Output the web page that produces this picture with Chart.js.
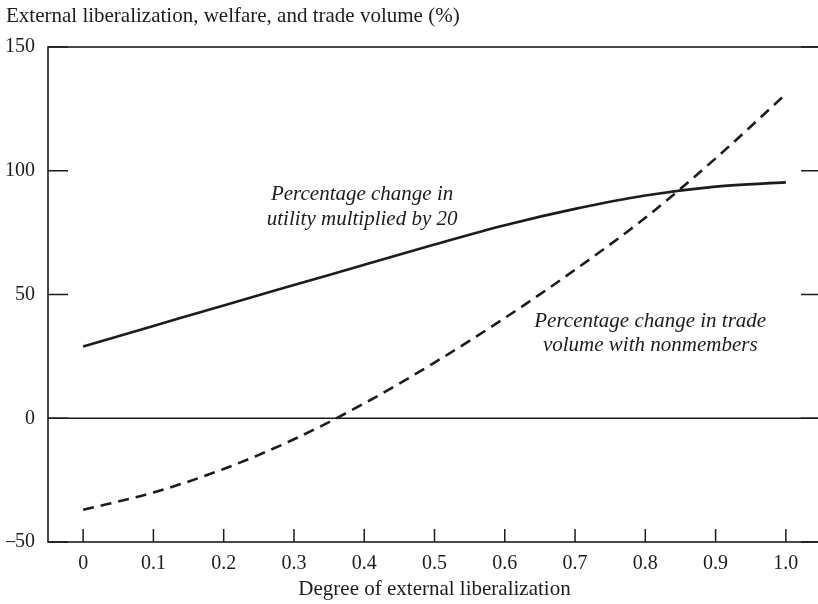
<!DOCTYPE html>
<html>
<head>
<meta charset="utf-8">
<script src="https://cdn.jsdelivr.net/npm/chart.js@4.4.1/dist/chart.umd.min.js"></script>
<style>
  html, body { margin: 0; padding: 0; background: #fff; overflow: hidden; }
  #wrap { width: 818px; height: 604px; overflow: hidden; }
</style>
</head>
<body>
<div id="wrap"><canvas id="chart" width="840" height="604"></canvas></div>
<script>
// values
const liberalization = [0, 0.1, 0.2, 0.3, 0.4, 0.5, 0.6, 0.7, 0.8, 0.9, 1.0];
const utilityChange = [29, 37.3, 45.6, 53.8, 62, 70.2, 78, 84.6, 90, 93.6, 95.3];
const tradeChange = [-37, -30, -20.5, -8.5, 6, 22.5, 40.5, 60, 81, 105, 131];

const xTicks = [0, 0.1, 0.2, 0.3, 0.4, 0.5, 0.6, 0.7, 0.8, 0.9, 1.0];
const xTickLabels = ['0', '0.1', '0.2', '0.3', '0.4', '0.5', '0.6', '0.7', '0.8', '0.9', '1.0'];
const yTicks = [-50, 0, 50, 100, 150];
const yTickLabels = ['\u201350', '0', '50', '100', '150'];

const serif = '"Liberation Serif", "DejaVu Serif", serif';
const ink = '#1c1c1c';

// curve labels, placed in data units
const curveNotes = [
    { x: 0.397, y: [90.3, 80.2], lines: ['Percentage change in', 'utility multiplied by 20'] },
    { x: 0.807, y: [39, 29.4], lines: ['Percentage change in trade', 'volume with nonmembers'] }
];

const framePlugin = {
    id: 'frame',
    beforeDatasetsDraw(chart) {
        const { ctx, chartArea: a, scales: { y } } = chart;
        const y0 = y.getPixelForValue(0);
        ctx.save();
        ctx.strokeStyle = ink;
        ctx.lineWidth = 1.3;
        ctx.beginPath();
        ctx.moveTo(a.left, y0);
        ctx.lineTo(a.right, y0);
        ctx.stroke();
        ctx.restore();
    },
    afterDatasetsDraw(chart) {
        const { ctx, chartArea: a, scales: { x, y } } = chart;
        ctx.save();
        ctx.strokeStyle = ink;
        ctx.lineWidth = 1.6;
        ctx.strokeRect(a.left, a.top, a.right - a.left, a.bottom - a.top);

        // inward ticks
        ctx.lineWidth = 1.5;
        ctx.beginPath();
        yTicks.forEach(v => {
            const py = y.getPixelForValue(v);
            ctx.moveTo(a.left, py); ctx.lineTo(a.left + 20, py);
            ctx.moveTo(a.right - 20, py); ctx.lineTo(a.right, py);
        });
        xTicks.forEach(v => {
            const px = x.getPixelForValue(v);
            ctx.moveTo(px, a.bottom); ctx.lineTo(px, a.bottom - 13);
        });
        ctx.stroke();

        // curve labels
        ctx.fillStyle = ink;
        ctx.font = 'italic 21px ' + serif;
        ctx.textAlign = 'center';
        ctx.textBaseline = 'middle';
        curveNotes.forEach(n => {
            n.lines.forEach((t, i) => {
                ctx.fillText(t, x.getPixelForValue(n.x), y.getPixelForValue(n.y[i]));
            });
        });
        ctx.restore();
    }
};

const ctx = document.getElementById('chart').getContext('2d');
const chart = new Chart(ctx, {
    type: 'line',
    data: {
        labels: liberalization,
        datasets: [{
            label: 'Percentage change in utility multiplied by 20',
            data: liberalization.map((v, i) => ({ x: v, y: utilityChange[i] })),
            borderColor: ink,
            borderWidth: 2.6,
            pointRadius: 0,
            cubicInterpolationMode: 'monotone'
        }, {
            label: 'Percentage change in trade volume with nonmembers',
            data: liberalization.map((v, i) => ({ x: v, y: tradeChange[i] })),
            borderColor: ink,
            borderWidth: 2.6,
            borderDash: [11, 7],
            pointRadius: 0,
            cubicInterpolationMode: 'monotone'
        }]
    },
    options: {
        responsive: false,
        animation: false,
        layout: { padding: { left: 6, right: 19, top: 0, bottom: 0 } },
        plugins: {
            legend: { display: false },
            tooltip: { enabled: false },
            title: {
                display: true,
                text: 'External liberalization, welfare, and trade volume (%)',
                align: 'start',
                color: ink,
                font: { family: serif, size: 21, weight: 'normal' },
                padding: { top: 3.5, bottom: 18.3 }
            }
        },
        scales: {
            x: {
                type: 'linear',
                min: -0.05,
                max: 1.05,
                afterBuildTicks: s => { s.ticks = xTicks.map(v => ({ value: v })); },
                afterFit: s => { s.height = 62; },
                grid: { display: false, drawTicks: false },
                border: { display: false },
                ticks: {
                    padding: 10,
                    color: ink,
                    maxRotation: 0,
                    autoSkip: false,
                    font: { family: serif, size: 20 },
                    callback: (v, i) => xTickLabels[i]
                },
                title: {
                    display: true,
                    text: 'Degree of external liberalization',
                    color: ink,
                    font: { family: serif, size: 21 },
                    padding: { top: 0, bottom: 1.5 }
                }
            },
            y: {
                min: -50,
                max: 150,
                afterBuildTicks: s => { s.ticks = yTicks.map(v => ({ value: v })); },
                afterFit: s => { s.width = 42; },
                grid: { display: false, drawTicks: false },
                border: { display: false },
                ticks: {
                    padding: 13,
                    color: ink,
                    font: { family: serif, size: 20 },
                    callback: (v, i) => yTickLabels[i]
                }
            }
        }
    },
    plugins: [framePlugin]
});
</script>
</body>
</html>
